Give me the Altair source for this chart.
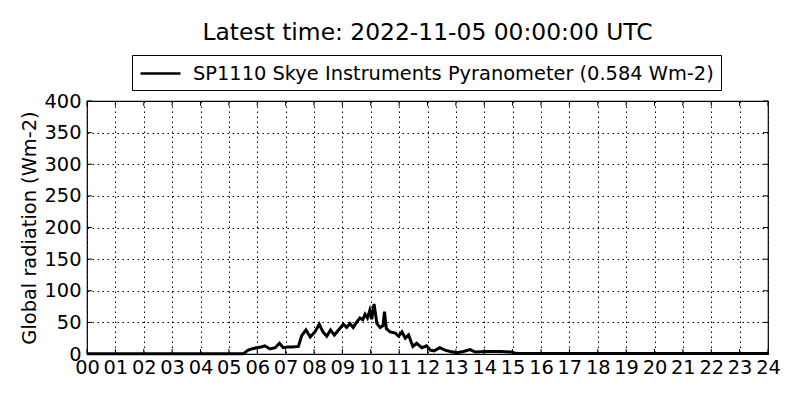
import altair as alt
import pandas as pd

# pyranometer trace (UTC time, Wm-2)
times = ["00:00", "05:00", "05:30", "05:34", "05:40", "05:48", "05:59", "06:08",
         "06:16", "06:27", "06:38", "06:47", "06:55", "07:05", "07:13", "07:27",
         "07:34", "07:43", "07:52", "08:02", "08:11", "08:19", "08:27", "08:35",
         "08:43", "08:52", "09:02", "09:09", "09:16", "09:23", "09:30", "09:37",
         "09:43", "09:48", "09:53", "09:58", "10:02", "10:07", "10:13", "10:20",
         "10:26", "10:29", "10:33", "10:41", "10:52", "10:59", "11:06", "11:13",
         "11:20", "11:29", "11:37", "11:48", "11:58", "12:06", "12:14", "12:26",
         "12:37", "12:48", "13:02", "13:16", "13:30", "13:41", "14:05", "14:33",
         "14:58", "15:05", "15:15", "24:00"]
radiation = [0.3, 0.3, 0.5, 2, 6, 8, 10, 11,
             13, 8, 10, 17, 10, 11, 11, 12,
             29, 38, 27, 35, 47, 35, 28, 38,
             30, 38, 47, 42, 48, 42, 50, 57,
             54, 63, 57, 69, 55, 79, 48, 42,
             45, 67, 40, 35, 33, 28, 35, 25,
             30, 12, 17, 10, 13, 6, 5, 10,
             6, 4, 2, 4, 7, 3, 4, 4,
             3, 1, 0.6, 0.6]

hour_ticks = list(range(0, 25))
rad_ticks = list(range(0, 401, 50))

series = "SP1110 Skye Instruments Pyranometer (0.584 Wm-2)"
title = "Latest time: 2022-11-05 00:00:00 UTC"

W, H = 681, 253
FONT = "DejaVu Sans"
FS = 19.4


def to_hours(t):
    h, m = t.split(":")
    return int(h) + int(m) / 60


df = pd.DataFrame({
    "hour": [to_hours(t) for t in times],
    "rad": radiation,
    "series": series,
})
xt = pd.DataFrame({"hour": hour_ticks})
yt = pd.DataFrame({"rad": rad_ticks})

x_scale = alt.Scale(domain=[0, 24], nice=False, zero=False)
y_scale = alt.Scale(domain=[0, 400], nice=False)

x_axis = alt.Axis(values=hour_ticks, tickSize=0, labelPadding=4,
                  labelFontSize=FS, labelFont=FONT, labelColor="black",
                  labelExpr="datum.value < 10 ? '0' + datum.value : '' + datum.value",
                  grid=True, gridColor="black", gridDash=[1.5, 3.5], gridWidth=1,
                  domain=False, title=None, labelFlush=False, labelOverlap=False)
y_axis = alt.Axis(values=rad_ticks, tickSize=0, labelPadding=6,
                  labelFontSize=FS, labelFont=FONT, labelColor="black",
                  grid=True, gridColor="black", gridDash=[1.5, 3.5], gridWidth=1,
                  domain=False, title="Global radiation (Wm-2)",
                  titleFontSize=FS, titleFont=FONT, titleFontWeight="normal",
                  titleColor="black", titlePadding=4, labelFlush=False,
                  labelOverlap=False)

line = alt.Chart(df).mark_line(strokeWidth=3).encode(
    x=alt.X("hour:Q", scale=x_scale, axis=x_axis),
    y=alt.Y("rad:Q", scale=y_scale, axis=y_axis),
    color=alt.Color("series:N", scale=alt.Scale(range=["black"]),
                    legend=alt.Legend(title=None, orient="none", legendX=45, legendY=-46,
                                      strokeColor="black", fillColor="white",
                                      padding=7, symbolType="M-2,0H2",
                                      symbolSize=400, symbolStrokeWidth=2.5,
                                      symbolOffset=10,
                                      labelFontSize=FS, labelFont=FONT,
                                      labelColor="black", labelOffset=21,
                                      labelLimit=0, cornerRadius=0)),
)

# inward ticks on all four sides (matplotlib style)
bottom_ticks = alt.Chart(xt).mark_rule(color="black").encode(
    x=alt.X("hour:Q", scale=x_scale, axis=x_axis), y=alt.value(H), y2=alt.value(H - 5))
top_ticks = alt.Chart(xt).mark_rule(color="black").encode(
    x=alt.X("hour:Q", scale=x_scale, axis=x_axis), y=alt.value(0), y2=alt.value(5))
left_ticks = alt.Chart(yt).mark_rule(color="black").encode(
    y=alt.Y("rad:Q", scale=y_scale, axis=y_axis), x=alt.value(0), x2=alt.value(5))
right_ticks = alt.Chart(yt).mark_rule(color="black").encode(
    y=alt.Y("rad:Q", scale=y_scale, axis=y_axis), x=alt.value(W), x2=alt.value(W - 5))

chart = alt.layer(line, bottom_ticks, top_ticks, left_ticks, right_ticks).properties(
    width=W, height=H,
    title=alt.TitleParams(title, fontSize=23.4, font=FONT, fontWeight="normal",
                          color="black", anchor="middle", offset=9),
    autosize=alt.AutoSizeParams(type="none"),
    padding={"left": 79, "top": 93, "right": 24, "bottom": 30},
).configure_view(stroke="black", strokeWidth=1.2)

chart.save("out.html", embed_options={"renderer": "svg", "actions": False})
